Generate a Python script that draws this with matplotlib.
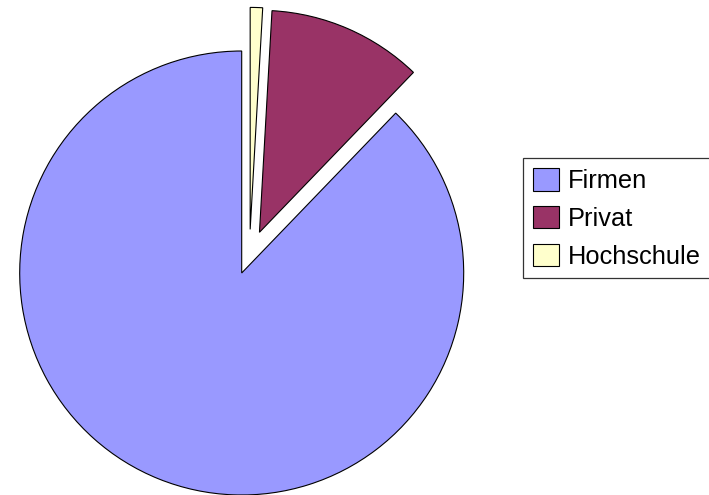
import matplotlib
matplotlib.use("Agg")
import matplotlib.pyplot as plt
import numpy as np

categories = ["Firmen", "Privat", "Hochschule"]
values = [87.8, 11.3, 0.9]
colors = ["#9999FF", "#993366", "#FFFFCC"]
explode = [0.0, 0.2, 0.2]
# direction (degrees) in which the small slice is pulled out (None = mid-angle)
explode_dir = [None, None, 79.0]

W, H = 709, 495
fig = plt.figure(figsize=(W / 100, H / 100), dpi=100)
ax = fig.add_axes([0, 0, 1, 1])

wedges, _ = ax.pie(values, colors=colors, explode=explode, startangle=90,
                   counterclock=True, radius=1.0,
                   wedgeprops=dict(edgecolor="black", linewidth=0.8))
for w, e, d in zip(wedges, explode, explode_dir):
    if d is not None:
        w.set_center((e * np.cos(np.radians(d)), e * np.sin(np.radians(d))))

cx, cy, r = 241.7, 273.0, 222.0
ax.set_aspect("auto")
ax.set_xlim(-cx / r, (W - cx) / r)
ax.set_ylim(-(H - cy) / r, cy / r)
ax.axis("off")

leg = fig.legend(wedges, categories, loc="upper left",
                 bbox_to_anchor=(523 / W, 1 - 158.3 / H, 230 / W, 0),
                 mode="expand",
                 prop=dict(family="Liberation Sans", size=18.3),
                 frameon=True, fancybox=False, shadow=False,
                 handlelength=1.04, handleheight=1.0, handletextpad=0.33,
                 labelspacing=0.5, borderpad=0.38, borderaxespad=0.0)
frame = leg.get_frame()
frame.set_edgecolor("black")
frame.set_linewidth(0.9)
frame.set_facecolor("white")

fig.savefig("out.png", dpi=100)
